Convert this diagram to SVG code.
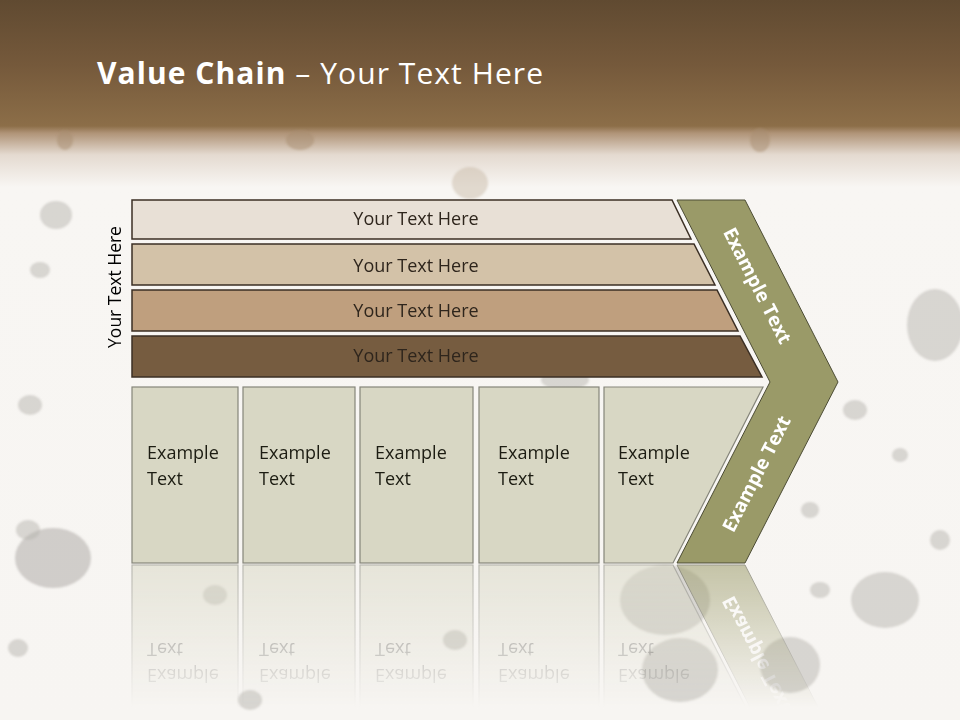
<svg xmlns="http://www.w3.org/2000/svg" width="960" height="720" viewBox="0 0 960 720">
<defs>
<linearGradient id="bg" x1="0" y1="0" x2="0" y2="1">
<stop offset="0" stop-color="#604a31"/>
<stop offset="0.09" stop-color="#75593b"/>
<stop offset="0.175" stop-color="#8c6e48"/>
<stop offset="0.185" stop-color="#b09478"/>
<stop offset="0.215" stop-color="#e4dad0"/>
<stop offset="0.26" stop-color="#f8f6f3"/>
<stop offset="1" stop-color="#f7f5f2"/>
</linearGradient>
<linearGradient id="fade" x1="0" y1="0" x2="0" y2="1">
<stop offset="0" stop-color="#fff" stop-opacity="0.55"/>
<stop offset="1" stop-color="#fff" stop-opacity="0"/>
</linearGradient>
<mask id="refl" maskUnits="userSpaceOnUse" x="0" y="563" width="960" height="157">
<rect x="0" y="563" width="960" height="145" fill="url(#fade)"/>
</mask>
<filter id="soft" x="-20%" y="-20%" width="140%" height="140%"><feGaussianBlur stdDeviation="1.2"/></filter>
</defs>
<style>
.bar{stroke:#3b2f24;stroke-width:1.5}
.bt{font-family:"Open Sans","Noto Sans",sans-serif;font-size:18px;fill:#2e251c;text-anchor:middle}
.box{fill:#d8d7c4;stroke:#85857a;stroke-width:1.2}
.et{font-family:"Open Sans","Noto Sans",sans-serif;font-size:18px;fill:#1c1c12}
.chev{fill:#9a9a68;stroke:#4c4c34;stroke-width:1}
.ct{font-family:"Open Sans","Noto Sans",sans-serif;font-size:19px;font-weight:bold;fill:#ffffff;text-anchor:middle}
.blob{fill:#b8b5b0;opacity:0.5}
</style>
<rect x="0" y="0" width="960" height="720" fill="url(#bg)"/>
<g id="splatter" filter="url(#soft)">
<ellipse class="blob" cx="53" cy="558" rx="38" ry="30" style="fill:#a9a6a1"/>
<ellipse class="blob" cx="28" cy="530" rx="12" ry="10"/>
<ellipse class="blob" cx="935" cy="325" rx="28" ry="36"/>
<ellipse class="blob" cx="885" cy="600" rx="34" ry="28"/>
<ellipse class="blob" cx="855" cy="410" rx="12" ry="10"/>
<ellipse class="blob" cx="470" cy="183" rx="18" ry="16" style="fill:#c9bba9"/>
<ellipse class="blob" cx="56" cy="215" rx="16" ry="14"/>
<ellipse class="blob" cx="40" cy="270" rx="10" ry="8"/>
<ellipse class="blob" cx="30" cy="405" rx="12" ry="10"/>
<ellipse class="blob" cx="18" cy="648" rx="10" ry="9"/>
<ellipse class="blob" cx="665" cy="600" rx="45" ry="35"/>
<ellipse class="blob" cx="680" cy="670" rx="38" ry="32"/>
<ellipse class="blob" cx="790" cy="665" rx="30" ry="28"/>
<ellipse class="blob" cx="820" cy="590" rx="10" ry="8"/>
<ellipse class="blob" cx="810" cy="510" rx="9" ry="8"/>
<ellipse class="blob" cx="900" cy="455" rx="8" ry="7"/>
<ellipse class="blob" cx="565" cy="380" rx="24" ry="10"/>
<ellipse class="blob" cx="455" cy="640" rx="12" ry="10"/>
<ellipse class="blob" cx="215" cy="595" rx="12" ry="10"/>
<ellipse class="blob" cx="250" cy="700" rx="12" ry="10"/>
<ellipse class="blob" cx="940" cy="540" rx="10" ry="10"/>
<ellipse class="blob" cx="760" cy="140" rx="10" ry="12" style="fill:#a88e70"/>
<ellipse class="blob" cx="300" cy="140" rx="14" ry="10" style="fill:#a88e70"/>
<ellipse class="blob" cx="65" cy="140" rx="8" ry="10" style="fill:#a88e70"/>
</g>
<text x="97" y="84" textLength="446" lengthAdjust="spacing" style="font-family:'Open Sans','Noto Sans',sans-serif;font-size:30px;fill:#ffffff"><tspan font-weight="bold">Value Chain</tspan> – Your Text Here</text>
<text transform="translate(121,287) rotate(-90)" style="font-family:'Open Sans','Noto Sans',sans-serif;font-size:17.5px;fill:#000;text-anchor:middle">Your Text Here</text>
<g id="bar1"><polygon class="bar" points="132,200 672,200 691,239 132,239" fill="#e8e0d6"/><text class="bt" x="416" y="225">Your Text Here</text></g>
<g id="bar2"><polygon class="bar" points="132,244 694,244 715,285 132,285" fill="#d3c2a8"/><text class="bt" x="416" y="272">Your Text Here</text></g>
<g id="bar3"><polygon class="bar" points="132,290 717,290 738,331 132,331" fill="#bf9f7e"/><text class="bt" x="416" y="317">Your Text Here</text></g>
<g id="bar4"><polygon class="bar" points="132,336 740,336 762,377 132,377" fill="#765c40"/><text class="bt" x="416" y="362">Your Text Here</text></g>
<g id="lower">
<g id="col1"><rect class="box" x="132" y="387" width="106" height="176"/><text class="et" x="147" y="459">Example<tspan x="147" y="485">Text</tspan></text></g>
<g id="col2"><rect class="box" x="243" y="387" width="112" height="176"/><text class="et" x="259" y="459">Example<tspan x="259" y="485">Text</tspan></text></g>
<g id="col3"><rect class="box" x="360" y="387" width="113" height="176"/><text class="et" x="375" y="459">Example<tspan x="375" y="485">Text</tspan></text></g>
<g id="col4"><rect class="box" x="479" y="387" width="120" height="176"/><text class="et" x="498" y="459">Example<tspan x="498" y="485">Text</tspan></text></g>
<g id="col5"><polygon class="box" points="604,387 763,387 673,563 604,563"/><text class="et" x="618" y="459">Example<tspan x="618" y="485">Text</tspan></text></g>
<g id="chevron"><polygon class="chev" points="677,200 745,200 838,382 745,563 677,563 770,382"/>
<text class="ct" transform="translate(757,286) rotate(63)" y="6">Example Text</text>
<text class="ct" transform="translate(757,474) rotate(-63)" y="6">Example Text</text></g>
</g>
<g id="reflection" mask="url(#refl)">
<use href="#lower" transform="translate(0,1128) scale(1,-1)"/>
</g>
</svg>
